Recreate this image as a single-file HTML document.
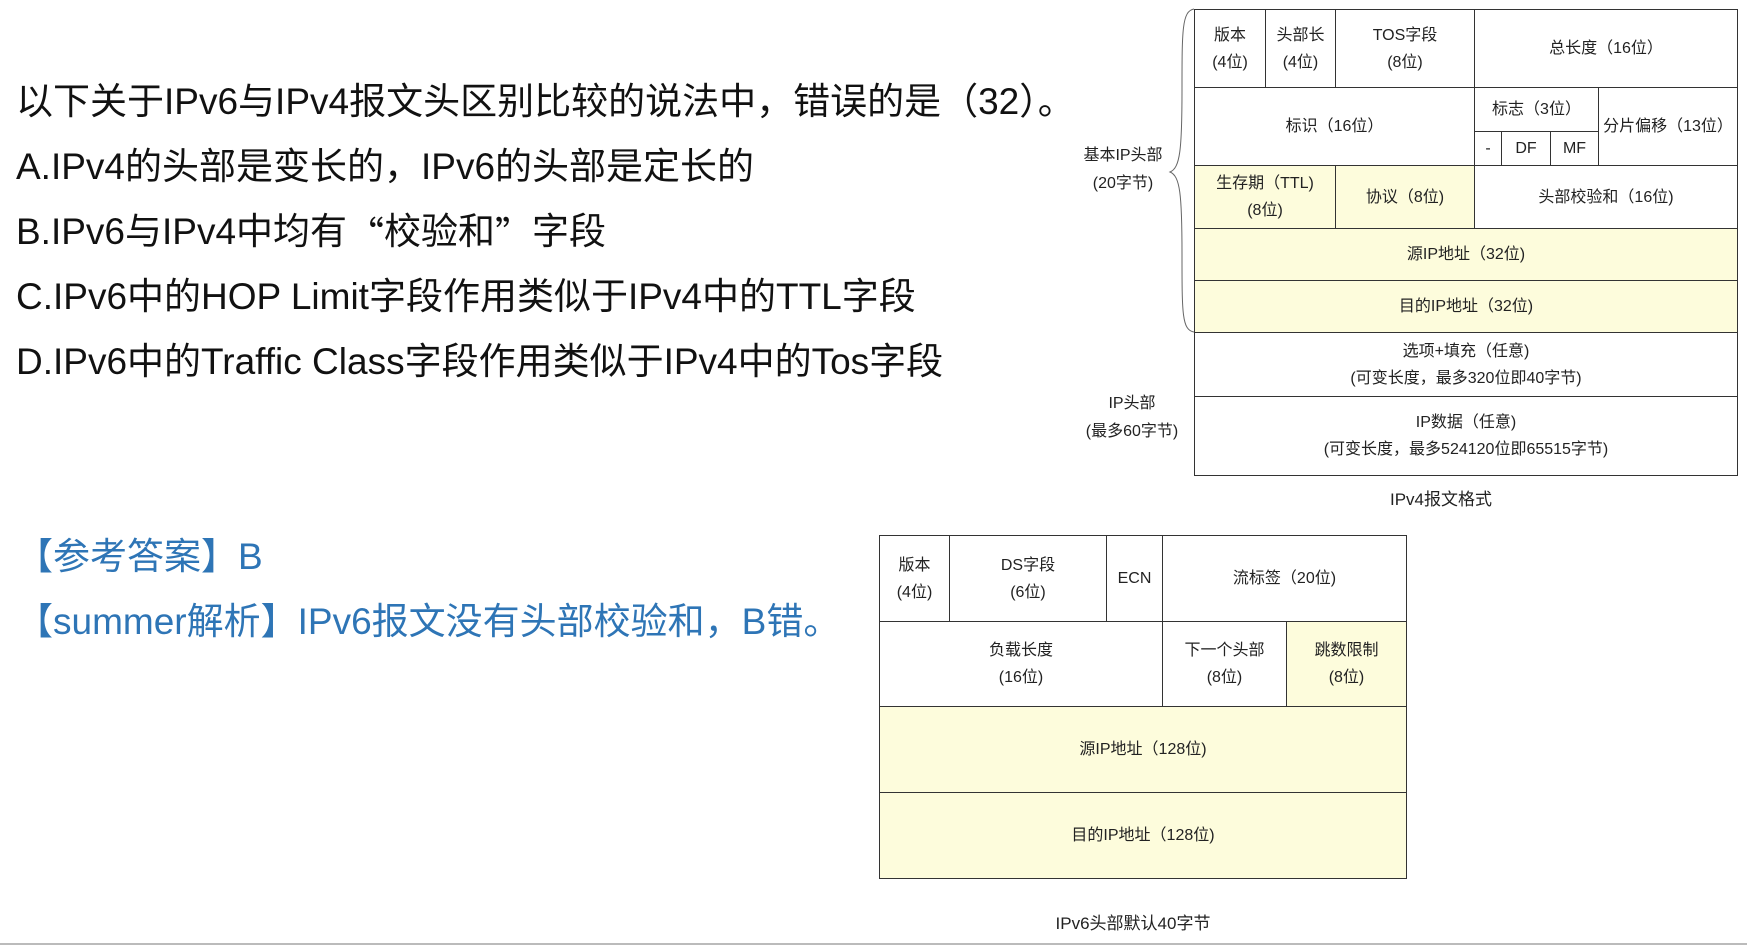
<!DOCTYPE html>
<html><head><meta charset="utf-8"><style>
body{margin:0;width:1747px;height:945px;background:#fff;position:relative;overflow:hidden;font-family:"Liberation Sans","Noto Sans CJK SC",sans-serif;}
.t{position:absolute;left:16px;font-size:37px;color:#111;white-space:nowrap;line-height:44px;height:44px;}
.b{color:#2e75b6;}
.q{font-family:"Noto Sans CJK SC",sans-serif;line-height:0;display:inline-block;vertical-align:top;height:44px;line-height:44px;}
.c{position:absolute;border:1.5px solid #333;box-sizing:border-box;display:flex;align-items:center;justify-content:center;text-align:center;font-size:16px;line-height:27px;color:#222;background:#fff;}
.y{background:#fdfcdc;}
.l{position:absolute;font-size:16px;line-height:28px;text-align:center;color:#222;white-space:nowrap;transform:translateX(-50%);}
</style></head><body>
<div class="t" style="top:80px">以下关于IPv6与IPv4报文头区别比较的说法中，错误的是（32）。</div>
<div class="t" style="top:145px">A.IPv4的头部是变长的，IPv6的头部是定长的</div>
<div class="t" style="top:210px">B.IPv6与IPv4中均有<span class="q">“</span>校验和<span class="q">”</span>字段</div>
<div class="t" style="top:275px">C.IPv6中的HOP Limit字段作用类似于IPv4中的TTL字段</div>
<div class="t" style="top:340px">D.IPv6中的Traffic Class字段作用类似于IPv4中的Tos字段</div>
<div class="t b" style="top:535px">【参考答案】B</div>
<div class="t b" style="top:600px">【summer解析】IPv6报文没有头部校验和，B错。</div>

<!-- IPv4 -->
<div class="c" style="left:1194px;top:9px;width:72px;height:79px">版本<br>(4位)</div>
<div class="c" style="left:1265px;top:9px;width:71px;height:79px">头部长<br>(4位)</div>
<div class="c" style="left:1335px;top:9px;width:140px;height:79px">TOS字段<br>(8位)</div>
<div class="c" style="left:1474px;top:9px;width:264px;height:79px">总长度（16位）</div>
<div class="c" style="left:1194px;top:87px;width:281px;height:79px">标识（16位）</div>
<div class="c" style="left:1474px;top:87px;width:125px;height:45px">标志（3位）</div>
<div class="c" style="left:1474px;top:131px;width:28px;height:35px">-</div>
<div class="c" style="left:1501px;top:131px;width:50px;height:35px">DF</div>
<div class="c" style="left:1550px;top:131px;width:49px;height:35px">MF</div>
<div class="c" style="left:1598px;top:87px;width:140px;height:79px">分片偏移（13位）</div>
<div class="c y" style="left:1194px;top:165px;width:142px;height:64px">生存期（TTL)<br>(8位)</div>
<div class="c y" style="left:1335px;top:165px;width:140px;height:64px">协议（8位)</div>
<div class="c" style="left:1474px;top:165px;width:264px;height:64px">头部校验和（16位)</div>
<div class="c y" style="left:1194px;top:228px;width:544px;height:53px">源IP地址（32位)</div>
<div class="c y" style="left:1194px;top:280px;width:544px;height:53px">目的IP地址（32位)</div>
<div class="c" style="left:1194px;top:332px;width:544px;height:65px">选项+填充（任意)<br>(可变长度，最多320位即40字节)</div>
<div class="c" style="left:1194px;top:396px;width:544px;height:80px">IP数据（任意)<br>(可变长度，最多524120位即65515字节)</div>
<div class="l" style="left:1441px;top:486px;font-size:17px">IPv4报文格式</div>
<svg style="position:absolute;left:1160px;top:0" width="36" height="340"><path d="M34 9 C22 11,22 30,22 90 C22 150,20 168,10 172 C20 176,22 194,22 254 C22 314,22 330,34 332" fill="none" stroke="#666" stroke-width="1"/></svg>
<div class="l" style="left:1123px;top:142px">基本IP头部<br>(20字节)</div>
<div class="l" style="left:1132px;top:390px">IP头部<br>(最多60字节)</div>

<!-- IPv6 -->
<div class="c" style="left:879px;top:535px;width:71px;height:87px">版本<br>(4位)</div>
<div class="c" style="left:949px;top:535px;width:158px;height:87px">DS字段<br>(6位)</div>
<div class="c" style="left:1106px;top:535px;width:57px;height:87px">ECN</div>
<div class="c" style="left:1162px;top:535px;width:245px;height:87px">流标签（20位)</div>
<div class="c" style="left:879px;top:621px;width:284px;height:86px">负载长度<br>(16位)</div>
<div class="c" style="left:1162px;top:621px;width:125px;height:86px">下一个头部<br>(8位)</div>
<div class="c y" style="left:1286px;top:621px;width:121px;height:86px">跳数限制<br>(8位)</div>
<div class="c y" style="left:879px;top:706px;width:528px;height:87px">源IP地址（128位)</div>
<div class="c y" style="left:879px;top:792px;width:528px;height:87px">目的IP地址（128位)</div>
<div class="l" style="left:1133px;top:910px;font-size:17px">IPv6头部默认40字节</div>
<div style="position:absolute;left:0;top:943px;width:1747px;height:2px;background:#bbb"></div>
</body></html>
